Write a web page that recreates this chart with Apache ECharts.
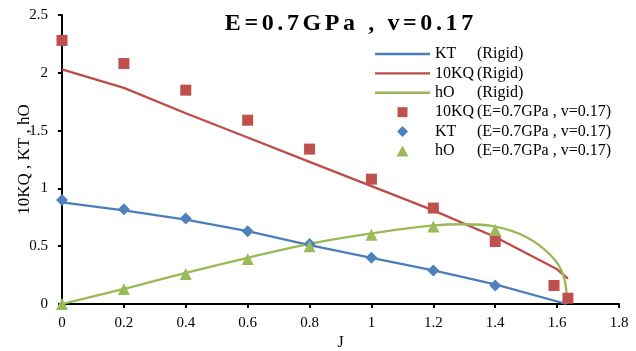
<!DOCTYPE html>
<html>
<head>
<meta charset="utf-8">
<script src="https://cdn.jsdelivr.net/npm/echarts@6/dist/echarts.min.js"></script>
<style>
  html, body { margin: 0; padding: 0; background: #fff; }
  #chart { width: 636px; height: 351px; }
</style>
</head>
<body>
<div id="chart"></div>
<script>
// rigid curves (x = J)
var ktRigidX = [0, 0.2, 0.4, 0.6, 0.8, 1.0, 1.2, 1.4, 1.63]
var ktRigidY = [0.88, 0.81, 0.73, 0.63, 0.51, 0.40, 0.29, 0.17, 0.0]
var kqRigidX = [0, 0.2, 0.4, 0.6, 0.8, 1.0, 1.2, 1.4, 1.6, 1.635]
var kqRigidY = [2.03, 1.87, 1.65, 1.44, 1.23, 1.02, 0.81, 0.58, 0.30, 0.22]
var hoRigidX = [0, 0.2, 0.4, 0.6, 0.8, 1.0, 1.2, 1.3, 1.4, 1.5, 1.58, 1.62, 1.632]
var hoRigidY = [0, 0.13, 0.27, 0.40, 0.52, 0.61, 0.68, 0.69, 0.67, 0.58, 0.42, 0.25, 0.0]

// E=0.7GPa , v=0.17 points
var kqPtsX = [0, 0.2, 0.4, 0.6, 0.8, 1.0, 1.2, 1.4, 1.59, 1.635]
var kqPtsY = [2.28, 2.08, 1.85, 1.59, 1.34, 1.08, 0.83, 0.54, 0.16, 0.05]
var ktPtsX = [0, 0.2, 0.4, 0.6, 0.8, 1.0, 1.2, 1.4]
var ktPtsY = [0.90, 0.82, 0.74, 0.63, 0.52, 0.40, 0.29, 0.16]
var hoPtsX = [0, 0.2, 0.4, 0.6, 0.8, 1.0, 1.2, 1.4]
var hoPtsY = [0, 0.13, 0.26, 0.39, 0.50, 0.60, 0.67, 0.64]

var xTicks = [0, 0.2, 0.4, 0.6, 0.8, 1, 1.2, 1.4, 1.6, 1.8]
var yTicks = [0, 0.5, 1, 1.5, 2, 2.5]

function pairs(xs, ys) {
  return xs.map(function (x, i) { return [x, ys[i]] })
}

var font = '"Liberation Serif", "Times New Roman", serif'
var blue = '#4A7EBB', red = '#BE4B48', green = '#98B954'

// legend icons drawn in a 55x11 box (the extra moveTo keeps the box size)
var box = 'path://M0,0 M55,11 '
var iconLine = box + 'M0,4.3 L55,4.3 L55,6.7 L0,6.7 Z'
var iconRect = box + 'M22.5,0.5 L32.5,0.5 L32.5,10.5 L22.5,10.5 Z'
var iconDiamond = box + 'M27.5,0 L33,5.5 L27.5,11 L22,5.5 Z'
var iconTri = box + 'M27.5,0 L33.5,11 L21.5,11 Z'

// spaced bold title
var titleText = 'E=0.7GPa , v=0.17'
var titleRich = titleText.split('').map(function (c) { return '{s|' + c + '}' }).join('')

var myChart = echarts.init(document.getElementById('chart'))
var option = {
  animation: false,
  title: {
    text: titleRich,
    left: 344,
    textAlign: 'center',
    top: 7,
    textStyle: {
      fontFamily: font, fontSize: 24, fontWeight: 'bold', color: '#000',
      rich: { s: { fontFamily: font, fontSize: 24, fontWeight: 'bold', color: '#000', padding: [0, 1.8, 0, 1.8] } }
    }
  },
  legend: {
    orient: 'vertical',
    left: 370,
    top: 41,
    itemWidth: 55,
    itemHeight: 11,
    itemGap: 3.4,
    textStyle: {
      fontFamily: font, fontSize: 16, color: '#000', lineHeight: 14,
      rich: {
        a: { width: 42, fontFamily: font, fontSize: 16, color: '#000', lineHeight: 14 },
        b: { fontFamily: font, fontSize: 16, color: '#000', lineHeight: 14 }
      }
    },
    formatter: function (name) {
      var i = name.indexOf(' ')
      return '{a|' + name.slice(0, i + 1) + '}{b|' + name.slice(i + 1) + '}'
    },
    data: [
      { name: 'KT (Rigid)', icon: iconLine },
      { name: '10KQ (Rigid)', icon: iconLine },
      { name: 'hO (Rigid)', icon: iconLine },
      { name: '10KQ (E=0.7GPa , v=0.17)', icon: iconRect },
      { name: 'KT (E=0.7GPa , v=0.17)', icon: iconDiamond },
      { name: 'hO (E=0.7GPa , v=0.17)', icon: iconTri }
    ]
  },
  grid: { left: 62, right: 17, top: 15, bottom: 47, outerBoundsMode: 'none' },
  xAxis: {
    type: 'value',
    min: 0, max: 1.8, interval: 0.2,
    name: 'J', nameLocation: 'middle', nameGap: 31, nameMoveOverlap: false,
    nameTextStyle: { fontFamily: font, fontSize: 16, color: '#000' },
    axisLine: { lineStyle: { color: '#000', width: 2 } },
    axisTick: { show: true, length: 4, lineStyle: { color: '#000', width: 2 } },
    axisLabel: {
      fontFamily: font, fontSize: 15, color: '#000', margin: 12,
      formatter: function (v) { return xTicks.indexOf(+v.toFixed(1)) >= 0 ? String(+v.toFixed(1)) : '' }
    },
    splitLine: { show: false }
  },
  yAxis: {
    type: 'value',
    min: 0, max: 2.5, interval: 0.5,
    name: '10KQ , KT , hO', nameLocation: 'middle', nameGap: 29, nameMoveOverlap: false,
    nameTextStyle: { fontFamily: font, fontSize: 17, color: '#000' },
    axisLine: { show: true, lineStyle: { color: '#000', width: 2 } },
    axisTick: { show: true, length: 4, lineStyle: { color: '#000', width: 2 } },
    axisLabel: {
      fontFamily: font, fontSize: 15, color: '#000', margin: 14,
      formatter: function (v) { return yTicks.indexOf(+v.toFixed(1)) >= 0 ? String(+v.toFixed(1)) : '' }
    },
    splitLine: { show: false }
  },
  series: [
    { name: 'KT (Rigid)', type: 'line', symbol: 'none', data: pairs(ktRigidX, ktRigidY),
      lineStyle: { color: blue, width: 2.3 }, itemStyle: { color: blue } },
    { name: '10KQ (Rigid)', type: 'line', symbol: 'none', data: pairs(kqRigidX, kqRigidY),
      lineStyle: { color: red, width: 2.3 }, itemStyle: { color: red } },
    { name: 'hO (Rigid)', type: 'line', symbol: 'none', smooth: 0.4, data: pairs(hoRigidX, hoRigidY),
      lineStyle: { color: green, width: 2.3 }, itemStyle: { color: green } },
    { name: '10KQ (E=0.7GPa , v=0.17)', type: 'scatter', symbol: 'rect', symbolSize: 11,
      data: pairs(kqPtsX, kqPtsY), itemStyle: { color: '#C0504D', opacity: 1 }, z: 5 },
    { name: 'KT (E=0.7GPa , v=0.17)', type: 'scatter', symbol: 'diamond', symbolSize: 12,
      data: pairs(ktPtsX, ktPtsY), itemStyle: { color: '#4F81BD', opacity: 1 }, z: 5 },
    { name: 'hO (E=0.7GPa , v=0.17)', type: 'scatter', symbol: 'triangle', symbolSize: 12,
      data: pairs(hoPtsX, hoPtsY), itemStyle: { color: '#9BBB59', opacity: 1 }, z: 5 }
  ]
}
myChart.setOption(option)
</script>
</body>
</html>
